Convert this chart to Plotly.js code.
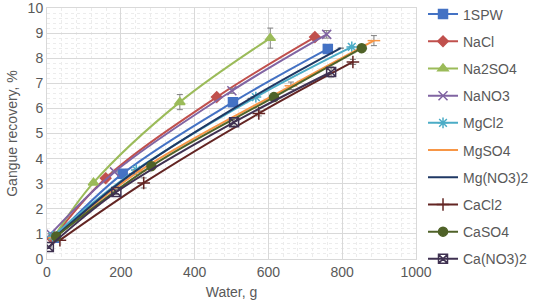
<!DOCTYPE html>
<html><head><meta charset="utf-8">
<script src="https://cdn.plot.ly/plotly-3.0.1.min.js"></script>
<style>html,body{margin:0;padding:0;background:#fff}#chart{width:536px;height:307px}</style>
</head><body><div id="chart"></div>
<script>
const seriesNames = ["1SPW","NaCl","Na2SO4","NaNO3","MgCl2","MgSO4","Mg(NO3)2","CaCl2","CaSO4","Ca(NO3)2"];
const x_1SPW = [20, 205, 504, 761];      const y_1SPW = [0.85, 3.4, 6.25, 8.37];  const e_1SPW = [0, 0, 0, 0];
const x_NaCl = [15, 159, 460, 726];      const y_NaCl = [0.8, 3.22, 6.45, 8.84];  const e_NaCl = [0, 0, 0, 0];
const x_Na2SO4 = [20, 126, 360, 605];    const y_Na2SO4 = [0.9, 3.04, 6.25, 8.8]; const e_Na2SO4 = [0, 0, 0.3, 0.4];
const x_NaNO3 = [10, 183, 501, 758];     const y_NaNO3 = [1.0, 3.47, 6.7, 8.95];  const e_NaNO3 = [0, 0, 0.1, 0.15];
const x_MgCl2 = [15, 242, 566, 826];     const y_MgCl2 = [0.9, 3.55, 6.45, 8.45]; const e_MgCl2 = [0, 0, 0, 0];
const x_MgSO4 = [20, 250, 661, 886];     const y_MgSO4 = [0.85, 3.5, 6.9, 8.7];   const e_MgSO4 = [0, 0, 0.15, 0.2];
const x_MgNO32 = [20, 230, 552, 796];    const y_MgNO32 = [0.85, 3.4, 6.4, 8.4];  const e_MgNO32 = [0, 0, 0, 0];
const x_CaCl2 = [35, 262, 574, 829];     const y_CaCl2 = [0.75, 3.03, 5.8, 7.85]; const e_CaCl2 = [0, 0.2, 0.1, 0.1];
const x_CaSO4 = [25, 283, 615, 853];     const y_CaSO4 = [0.9, 3.7, 6.45, 8.4];   const e_CaSO4 = [0, 0, 0, 0];
const x_CaNO32 = [5, 188, 507, 770];     const y_CaNO32 = [0.48, 2.67, 5.45, 7.45]; const e_CaNO32 = [0, 0.1, 0.15, 0.2];

const xs = [x_1SPW, x_NaCl, x_Na2SO4, x_NaNO3, x_MgCl2, x_MgSO4, x_MgNO32, x_CaCl2, x_CaSO4, x_CaNO32];
const ys = [y_1SPW, y_NaCl, y_Na2SO4, y_NaNO3, y_MgCl2, y_MgSO4, y_MgNO32, y_CaCl2, y_CaSO4, y_CaNO32];
const es = [e_1SPW, e_NaCl, e_Na2SO4, e_NaNO3, e_MgCl2, e_MgSO4, e_MgNO32, e_CaCl2, e_CaSO4, e_CaNO32];

const colors = ["#4472C4","#C0504D","#9BBB59","#8064A2","#4BACC6","#F79646","#1F3864","#632523","#4F6228","#3F3151"];
const symbols = ["square","diamond","triangle-up","x-thin-open","asterisk-open","line-ew-open","circle","cross-thin-open","circle","square-x-open"];
const sizes = [9, 8, 9, 9, 9, 9, 0, 9, 9, 9];

const traces = seriesNames.map((n, i) => ({
  type: "scatter", mode: sizes[i] ? "lines+markers" : "lines", name: n,
  x: xs[i], y: ys[i], legendgroup: n,
  line: {color: colors[i], width: 2, shape: "spline", smoothing: 1},
  marker: {symbol: symbols[i], size: sizes[i] || 1, color: colors[i], line: {color: colors[i], width: 1.5}},
  error_y: {type: "data", array: es[i], visible: true, color: "#7f7f7f", thickness: 1, width: 3}
}));

const fontFam = "Liberation Sans, Arial, sans-serif";
const layout = {
  width: 536, height: 307,
  margin: {l: 47, r: 120, t: 8, b: 48, autoexpand: false},
  paper_bgcolor: "#fff", plot_bgcolor: "#fff",
  font: {family: fontFam, color: "#595959", size: 14},
  showlegend: true,
  legend: {x: 1.019, xanchor: "left", y: 1.038, yanchor: "top", traceorder: "grouped", tracegroupgap: 6.0,
           maxheight: 300, bgcolor: "rgba(0,0,0,0)", font: {size: 14, color: "#595959"}, itemwidth: 30},
  xaxis: {range: [0, 1000], dtick: 200, tick0: 0, showgrid: true, gridcolor: "#d9d9d9", gridwidth: 1,
          zeroline: false, showline: true, linecolor: "#d9d9d9", mirror: true, ticks: "",
          ticklabeloverflow: "allow",
          tickfont: {size: 14, color: "#595959"},
          minor: {dtick: 40, showgrid: true, gridcolor: "#ececec", griddash: "dot"},
          title: {text: "Water, g", font: {size: 14, color: "#595959"}, standoff: 8}},
  yaxis: {range: [0, 10], dtick: 1, tick0: 0, showgrid: true, gridcolor: "#d9d9d9", gridwidth: 1,
          zeroline: false, showline: true, linecolor: "#d9d9d9", mirror: true, ticks: "",
          ticklabeloverflow: "allow",
          tickfont: {size: 14, color: "#595959"},
          minor: {dtick: 0.2, showgrid: true, gridcolor: "#ececec", griddash: "dot"},
          title: {text: "Gangue recovery, %", font: {size: 14, color: "#595959"}, standoff: 6}}
};
Plotly.newPlot("chart", traces, layout, {displayModeBar: false, staticPlot: true});
</script></body></html>
